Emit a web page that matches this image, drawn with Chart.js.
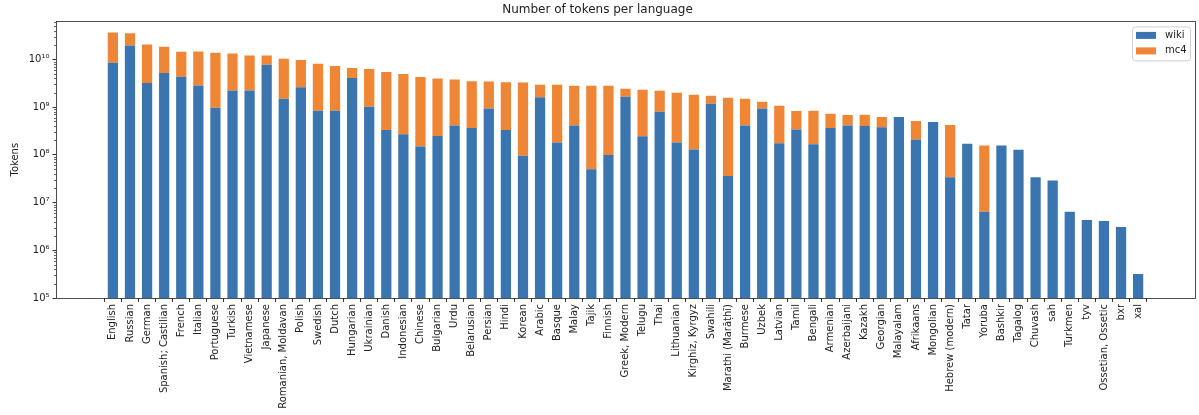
<!DOCTYPE html>
<html>
<head>
<meta charset="utf-8">
<script src="https://cdn.jsdelivr.net/npm/chart.js@4.4.1/dist/chart.umd.min.js"></script>
<style>
  html, body { margin: 0; padding: 0; background: #fff; }
  #wrap { width: 1199px; height: 415px; }
</style>
</head>
<body>
<div id="wrap"><canvas id="chart"></canvas></div>
<script>
const languages = [
  "English", "Russian", "German", "Spanish; Castilian", "French", "Italian", "Portuguese",
  "Turkish", "Vietnamese", "Japanese", "Romanian, Moldavan", "Polish", "Swedish", "Dutch",
  "Hungarian", "Ukrainian", "Danish", "Indonesian", "Chinese", "Bulgarian", "Urdu",
  "Belarusian", "Persian", "Hindi", "Korean", "Arabic", "Basque", "Malay", "Tajik",
  "Finnish", "Greek, Modern", "Telugu", "Thai", "Lithuanian", "Kirghiz, Kyrgyz", "Swahili",
  "Marathi (Marāṭhī)", "Burmese", "Uzbek", "Latvian", "Tamil", "Bengali", "Armenian",
  "Azerbaijani", "Kazakh", "Georgian", "Malayalam", "Afrikaans", "Mongolian",
  "Hebrew (modern)", "Tatar", "Yoruba", "Bashkir", "Tagalog", "Chuvash", "sah",
  "Turkmen", "tyv", "Ossetian, Ossetic", "bxr", "xal"
];

// wiki tokens (bottom of each bar)
const wikiTokens = [
  8.5e9, 1.96e10, 3.2e9, 5.2e9, 4.3e9, 2.85e9, 9.7e8,
  2.24e9, 2.24e9, 7.7e9, 1.5e9, 2.6e9, 8.4e8, 8.4e8,
  4.06e9, 1.02e9, 3.3e8, 2.7e8, 1.5e8, 2.47e8, 4.1e8,
  3.64e8, 9.3e8, 3.3e8, 9.6e7, 1.6e9, 1.82e8, 4.1e8, 5.0e7,
  9.9e7, 1.65e9, 2.44e8, 8.0e8, 1.82e8, 1.3e8, 1.18e9,
  3.6e7, 4.1e8, 9.3e8, 1.74e8, 3.4e8, 1.66e8, 3.64e8,
  4.1e8, 4.0e8, 3.8e8, 6.2e8, 2.1e8, 4.86e8,
  3.4e7, 1.71e8, 6.4e6, 1.56e8, 1.28e8, 3.4e7, 2.9e7,
  6.4e6, 4.3e6, 4.1e6, 3.06e6, 3.2e5
];

// mc4 tokens (stacked on top of wiki)
const mc4Tokens = [
  2.83e10, 1.55e10, 1.74e10, 1.33e10, 1.02e10, 1.17e10, 1.28e10,
  1.1e10, 9.8e9, 4.3e9, 8.8e9, 7.1e9, 7.3e9, 6.4e9,
  2.5e9, 5.3e9, 5.1e9, 4.65e9, 4.1e9, 3.75e9, 3.4e9,
  3.1e9, 2.53e9, 2.97e9, 3.2e9, 1.35e9, 2.77e9, 2.4e9, 2.76e9,
  2.71e9, 7.8e8, 2.08e9, 1.41e9, 1.82e9, 1.69e9, 5.5e8,
  1.54e9, 1.09e9, 3.7e8, 9.0e8, 4.9e8, 6.7e8, 3.66e8,
  2.76e8, 2.9e8, 2.4e8, null, 3.0e8, null,
  3.86e8, null, 1.5e8, null, null, null, null,
  null, null, null, null, null
];

const yMajorTicks = [1e5, 1e6, 1e7, 1e8, 1e9, 1e10];

const BLUE = "#3b75af";
const ORANGE = "#ef8636";
const FONT = "'DejaVu Sans', sans-serif";

function superscript(n) {
  const map = { "0": "⁰", "1": "¹", "2": "²", "3": "³", "4": "⁴", "5": "⁵", "6": "⁶", "7": "⁷", "8": "⁸", "9": "⁹", "-": "⁻" };
  return String(n).split("").map(c => map[c]).join("");
}

// frame, minor log ticks and the legend box, like matplotlib draws them
const decorPlugin = {
  id: "decor",
  afterDraw(chart) {
    const ctx = chart.ctx;
    const a = chart.chartArea;
    const y = chart.scales.y;
    ctx.save();

    // minor ticks
    ctx.strokeStyle = "#000";
    ctx.lineWidth = 0.6;
    for (let d = 5; d <= 10; d++) {
      for (let m = 2; m <= 9; m++) {
        const v = m * Math.pow(10, d);
        if (v > y.max) break;
        const py = Math.round(y.getPixelForValue(v)) + 0.5;
        ctx.beginPath();
        ctx.moveTo(a.left - 2, py);
        ctx.lineTo(a.left, py);
        ctx.stroke();
      }
    }

    // axes frame
    ctx.lineWidth = 0.8;
    ctx.strokeStyle = "#222";
    ctx.strokeRect(Math.round(a.left) + 0.5, Math.round(a.top) + 0.5,
      Math.round(a.right - a.left), Math.round(a.bottom - a.top));

    // legend
    const lx = a.right - 63, ly = a.top + 5, lw = 58, lh = 34;
    ctx.fillStyle = "rgba(255,255,255,0.8)";
    ctx.strokeStyle = "#d0d0d0";
    ctx.lineWidth = 1;
    ctx.beginPath();
    ctx.roundRect(lx + 0.5, ly + 0.5, lw, lh, 3);
    ctx.fill();
    ctx.stroke();

    const items = [["wiki", BLUE], ["mc4", ORANGE]];
    ctx.font = "10px " + FONT;
    ctx.textBaseline = "middle";
    items.forEach((it, i) => {
      const cy = ly + 9 + i * 15.5;
      ctx.fillStyle = it[1];
      ctx.fillRect(lx + 4, cy - 3.5, 20, 7);
      ctx.fillStyle = "#222";
      ctx.fillText(it[0], lx + 33, cy);
    });

    ctx.restore();
  }
};

const wikiData = wikiTokens.map((v, i) => ({ x: i, y: v }));
const mc4Data = mc4Tokens.map((v, i) => ({ x: i, y: v }));

new Chart(document.getElementById("chart"), {
  type: "bar",
  data: {
    datasets: [
      { label: "wiki", data: wikiData, backgroundColor: BLUE, borderWidth: 0,
        categoryPercentage: 1, barPercentage: 0.6 },
      { label: "mc4", data: mc4Data, backgroundColor: ORANGE, borderWidth: 0,
        categoryPercentage: 1, barPercentage: 0.6 }
    ]
  },
  options: {
    responsive: true,
    maintainAspectRatio: false,
    animation: false,
    layout: { padding: { left: 0, right: 4, top: 0, bottom: 0 } },
    plugins: {
      legend: { display: false },
      tooltip: { enabled: false },
      title: {
        display: true,
        text: "Number of tokens per language",
        color: "#222",
        font: { family: FONT, size: 12, weight: "normal" },
        padding: { top: 3, bottom: 4 }
      }
    },
    scales: {
      x: {
        type: "linear",
        stacked: true,
        min: -3.33,
        max: 63.33,
        offset: false,
        grid: { drawOnChartArea: false, drawTicks: true, tickLength: 4, color: "#000", lineWidth: 0.8 },
        border: { display: false },
        afterBuildTicks(axis) {
          axis.ticks = languages.map((_, i) => ({ value: i }));
        },
        afterFit(axis) { axis.height = 117; },
        ticks: {
          autoSkip: false,
          minRotation: 90,
          maxRotation: 90,
          padding: 2,
          color: "#222",
          font: { family: FONT, size: 10 },
          callback: (v) => languages[v]
        }
      },
      y: {
        type: "logarithmic",
        stacked: true,
        min: 1e5,
        max: 6.25e10,
        grid: { drawOnChartArea: false, drawTicks: true, tickLength: 3.5, color: "#000", lineWidth: 0.8 },
        border: { display: false },
        afterBuildTicks(axis) {
          axis.ticks = yMajorTicks.map(v => ({ value: v }));
        },
        afterFit(axis) { axis.width = 56; },
        title: {
          display: true,
          text: "Tokens",
          color: "#222",
          font: { family: FONT, size: 10 },
          padding: { top: 9, bottom: 0 }
        },
        ticks: {
          color: "#222",
          padding: 3,
          font: { family: FONT, size: 10 },
          callback: (v) => "10" + superscript(Math.round(Math.log10(v)))
        }
      }
    }
  },
  plugins: [decorPlugin]
});
</script>
</body>
</html>
